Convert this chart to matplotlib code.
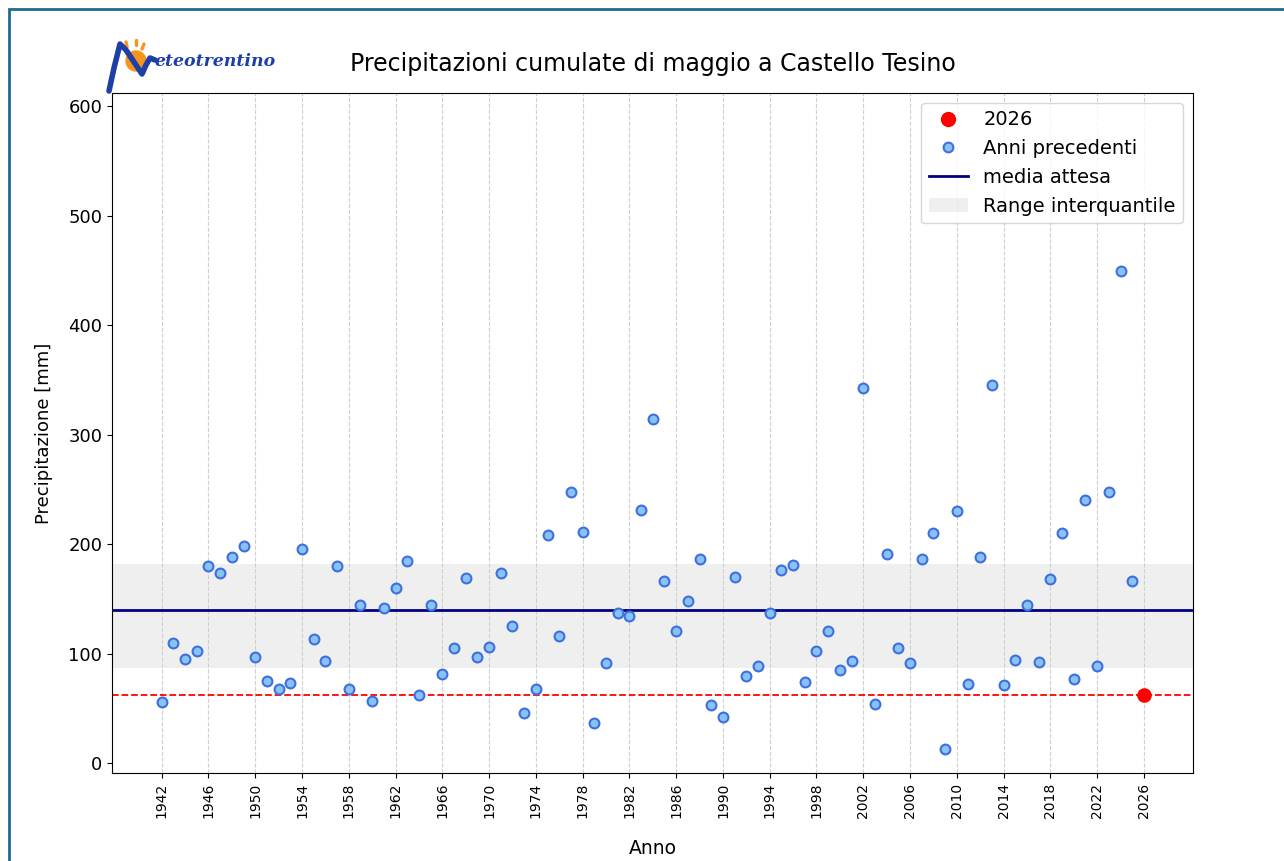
import numpy as np
import matplotlib
matplotlib.use("Agg")
import matplotlib.pyplot as plt
from matplotlib.patches import Rectangle, Circle, Patch
from matplotlib.lines import Line2D

# precipitazioni cumulate di maggio (mm), anni 1942-2025
anni = list(range(1942, 2026))
precip = [56, 110, 95, 102, 180, 174, 188, 198, 97, 75,
          68, 73, 196, 113, 93, 180, 68, 144, 57, 142,
          160, 185, 62, 144, 81, 105, 169, 97, 106, 174,
          125, 46, 68, 208, 116, 248, 211, 37, 91, 137,
          134, 231, 314, 166, 121, 148, 186, 53, 42, 170,
          80, 89, 137, 176, 181, 74, 102, 121, 85, 93,
          343, 54, 191, 105, 91, 186, 210, 13, 230, 72,
          188, 345, 71, 94, 144, 92, 168, 210, 77, 240,
          89, 248, 449, 166]

anno_corrente = 2026
precip_corrente = 62.4
media = 140
q25 = 86.9
q75 = 181.9

W, H = 1284, 861
fig = plt.figure(figsize=(W / 100, H / 100), dpi=100)
ax = fig.add_axes([112 / W, 1 - 773 / H, (1193 - 112) / W, (773 - 93) / H])

ax.axhspan(q25, q75, color="lightgray", alpha=0.35, lw=0)
ax.axhline(media, color="navy", lw=2)
ax.axhline(precip_corrente, color="red", ls="--", lw=1.3)
ax.scatter(anni, precip, s=50, facecolor="#87c3f5", edgecolor="#3f6fdf",
           linewidths=1.5, zorder=3)
ax.scatter([anno_corrente], [precip_corrente], s=90, color="red", zorder=4)

ax.set_xlim(1937.75, 2030.2)
ax.set_ylim(-9, 612)
ticks = list(range(1942, 2027, 4))
ax.set_xticks(ticks)
ax.set_xticklabels([str(t) for t in ticks], rotation=90, fontsize=10)
ax.set_yticks(range(0, 601, 100))
ax.tick_params(axis="y", labelsize=13)
ax.grid(axis="x", ls="--", color="#cfcfcf", lw=0.8)

ax.set_xlabel("Anno", fontsize=13.5, labelpad=15)
ax.set_ylabel("Precipitazione [mm]", fontsize=13, labelpad=11)
ax.set_title("Precipitazioni cumulate di maggio a Castello Tesino",
             fontsize=17, pad=16)

handles = [
    Line2D([], [], ls="", marker="o", color="red", markersize=10),
    Line2D([], [], ls="", marker="o", markerfacecolor="#87c3f5",
           markeredgecolor="#3f6fdf", markeredgewidth=1.5, markersize=7),
    Line2D([], [], color="navy", lw=2),
    Patch(facecolor="lightgray", alpha=0.35),
]
labels = ["2026", "Anni precedenti", "media attesa", "Range interquantile"]
ax.legend(handles, labels, loc="upper right", fontsize=14)

# logo Meteotrentino (approssimato)
lax = fig.add_axes([95 / W, 1 - 95 / H, 200 / W, 65 / H])
lax.set_xlim(95, 295)
lax.set_ylim(95, 30)
lax.set_aspect("equal")
lax.axis("off")
lax.add_patch(Circle((136, 61), 10, color="#f7941d"))
for x0, y0, x1, y1 in [(126, 42, 127, 47), (136, 40, 136, 45), (144, 44, 142, 49)]:
    lax.plot([x0, x1], [y0, y1], color="#f7941d", lw=2.4, solid_capstyle="round")
lax.plot([109, 114, 120, 126, 134, 142, 146, 150, 155],
         [91, 68, 44, 50, 62, 74, 65, 58, 60], color="#1d3fa6", lw=4,
         solid_capstyle="round", solid_joinstyle="round")
lax.text(154, 66, "eteotrentino", color="#1d3fa6", fontsize=12.5,
         family="DejaVu Serif", style="italic", weight="bold",
         va="baseline", ha="left")

# cornice
fig.patches.append(Rectangle((9 / W, -0.1), 1.2, 1.1 - 9 / H, transform=fig.transFigure,
                             fill=False, ec="#1f6a8f", lw=2))

fig.savefig("out.png", dpi=100)
